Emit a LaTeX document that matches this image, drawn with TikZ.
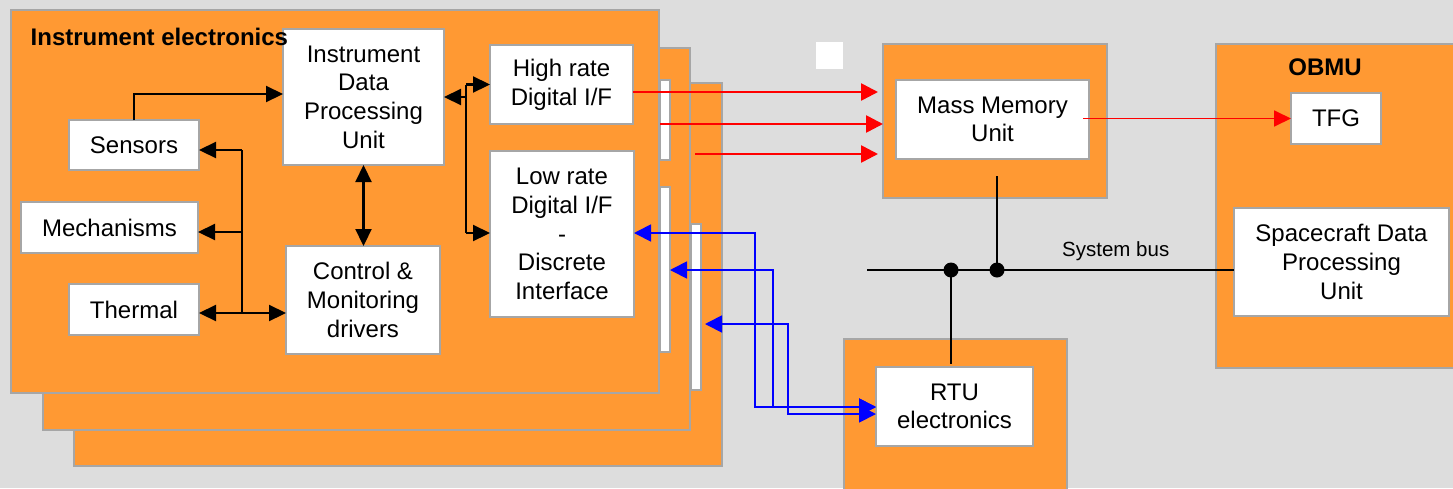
\documentclass[tikz,border=0pt]{standalone}
\usepackage{fontspec}
\setmainfont{Liberation Sans}
\usetikzlibrary{arrows.meta}
\definecolor{bgc}{RGB}{221,221,221}
\definecolor{org}{RGB}{255,153,51}
\definecolor{bord}{RGB}{166,166,166}
\definecolor{rd}{RGB}{255,0,0}
\definecolor{bl}{RGB}{0,0,255}
\tikzset{
  rect/.style 2 args={minimum width=#1pt, minimum height=#2pt, inner sep=0pt, outer sep=0pt},
  panel/.style={draw=bord, line width=2pt, fill=org},
  strip/.style={draw=bord, line width=1.5pt, fill=white},
  wbox/.style={draw=bord, line width=2pt, fill=white, align=center, font=\fontsize{24}{28.6}\selectfont},
  ln/.style={line width=2.2pt, black},
  blk/.style={ln, -{Triangle[length=17pt,width=16pt]}},
  blk2/.style={ln, {Triangle[length=17pt,width=16pt]}-{Triangle[length=17pt,width=16pt]}},
  redarr/.style={rd, line width=2.6pt, -{Triangle[length=17pt,width=17pt]}},
  redthin/.style={rd, line width=1.8pt, -{Triangle[length=17pt,width=16pt]}},
  bluearr/.style={bl, line width=1.8pt, {Triangle[length=17pt,width=17pt]}-{Triangle[length=17pt,width=17pt]}},
}
\begin{document}
\begin{tikzpicture}[x=1pt,y=-1pt]
\useasboundingbox (0,0) rectangle (1453,488);
\clip (0,0) rectangle (1453,488);
\fill[bgc] (0,0) rectangle (1453,488);

% stacked instrument panels
\node[panel, rect={648}{383}] (third) at (398,274.5) {};
\node[panel, rect={647}{382}] (second) at (366.5,239) {};
\node[strip, rect={10}{166}] (stripc) at (696,307) {};
\node[panel, rect={648}{383}] (front) at (335,201.5) {};
\node[strip, rect={10}{80}] (stripa) at (665,120) {};
\node[strip, rect={10}{165}] (stripb) at (665,269.5) {};

% other panels
\node[panel, rect={224}{154}] (mmuo) at (995,121) {};
\node[panel, rect={250}{324}] (obmu) at (1341,206) {};
\node[panel, rect={223}{170}] (rtuo) at (955.5,424) {};
\node[fill=white, rect={27}{27}] (sq) at (829.5,55.5) {};

% white boxes
\node[wbox, rect={130}{50}] (sensors) at (134,145) {Sensors};
\node[wbox, rect={177}{51}] (mech) at (109.5,227.5) {Mechanisms};
\node[wbox, rect={130}{51}] (thermal) at (134,309.5) {Thermal};
\node[wbox, rect={161}{136}] (idpu) at (363.5,97) {Instrument\\Data\\Processing\\Unit};
\node[wbox, rect={154}{108}] (cmd) at (363,300) {Control \&\\Monitoring\\drivers};
\node[wbox, rect={143}{79}] (hrdi) at (561.5,84.5) {High rate\\Digital I/F};
\node[wbox, rect={144}{166}] (lrdi) at (562,234) {Low rate\\Digital I/F\\-\\Discrete\\Interface};
\node[wbox, rect={193}{79}] (mmu) at (992.5,119.5) {Mass Memory\\Unit};
\node[wbox, rect={90}{51}] (tfg) at (1336,118.5) {TFG};
\node[wbox, rect={215}{108}] (sdpu) at (1341.5,262) {Spacecraft Data\\Processing\\Unit};
\node[wbox, rect={157}{79}] (rtu) at (954.5,406.5) {RTU\\electronics};

% labels
\node[font=\bfseries\fontsize{24}{28}\selectfont, anchor=base west, inner sep=0pt] (ielab) at (30.5,45.5) {Instrument electronics};
\node[font=\bfseries\fontsize{24}{28}\selectfont, anchor=base, inner sep=0pt] (oblab) at (1325,75.7) {OBMU};
\node[font=\fontsize{20.5}{24}\selectfont, anchor=base west, inner sep=0pt] (sblab) at (1062,256.5) {System bus};

% black connectors inside instrument
\coordinate (sA) at (242,150);
\coordinate (sM) at (242,232);
\coordinate (sB) at (242,313);
\draw[ln] (sA) -- (sB);
\draw[blk] (sA) -- (sensors.east |- sA);
\draw[blk] (sM) -- (mech.east |- sM);
\draw[blk] (sB) -- (thermal.east |- sB);
\draw[blk] (sB) -- (cmd.west |- sB);
\draw[blk] (sensors.north) |- ([yshift=3pt]idpu.west);
\draw[blk2] (idpu.south) -- (idpu.south |- cmd.north);
\coordinate (jT) at (466,84.5);
\coordinate (jM) at (466,97);
\coordinate (jB) at (466,233);
\draw[ln] (jT) -- (jB);
\draw[blk] (jM) -- (idpu.east);
\draw[blk] (jT) -- (hrdi.west |- jT);
\draw[blk] (jB) -- (lrdi.west |- jB);

% red connectors
\coordinate (r1) at (0,92);
\coordinate (r2) at (0,124);
\coordinate (r3s) at (695,154);
\draw[redarr, shorten >=5pt] (hrdi.east |- r1) -- (mmuo.west |- r1);
\draw[redarr] (stripa.west |- r2) -- (mmuo.west |- r2);
\draw[redarr, shorten >=5pt] (r3s) -- (mmuo.west |- r3s);
\coordinate (mmR) at ([xshift=-6pt]mmu.east);
\draw[redthin] (mmR |- tfg.west) -- (tfg.west);

% blue connectors
\coordinate (bA) at (0,407);
\coordinate (bB) at (0,414);
\coordinate (b2y) at (0,270);
\coordinate (b3s) at (705,324);
\draw[bluearr] (lrdi.east |- jB) -- ++(121,0) |- (rtu.west |- bA);
\draw[bluearr] (stripb.east |- b2y) -- ++(103,0) |- (rtu.west |- bA);
\draw[bluearr] (b3s) -- ++(83,0) |- (rtu.west |- bB);

% system bus
\coordinate (busL) at (867,270);
\coordinate (d1) at (951,270);
\coordinate (d2) at (997,270);
\coordinate (mmB) at (997,176);
\draw[ln] (busL) -- (sdpu.west |- busL);
\draw[ln] (mmB) -- (d2);
\draw[ln, shorten >=3pt] (d1) -- (d1 |- rtu.north);
\fill (d1) circle[radius=7.5pt];
\fill (d2) circle[radius=7.5pt];
\end{tikzpicture}
\end{document}
